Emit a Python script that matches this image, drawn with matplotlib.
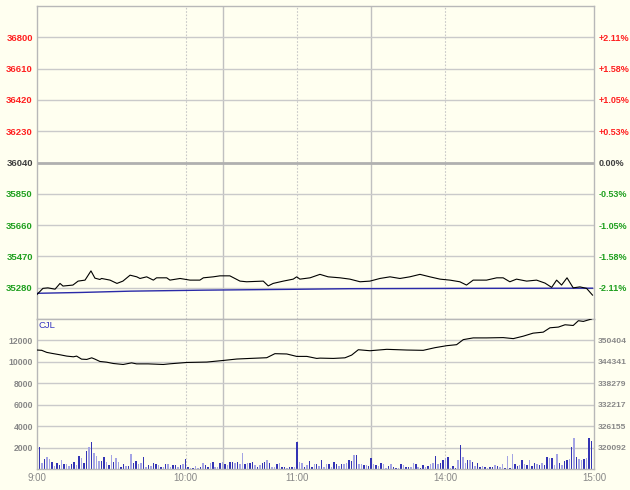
import matplotlib
matplotlib.use('Agg')
import matplotlib.pyplot as plt

# ---------------- data ----------------
price_min = [0, 2.4, 4.4, 7.3, 9.3, 10.5, 14.5, 16.6, 19.4, 21.8, 23.4, 25.4, 26.1, 29.5, 32.3, 34.7,
             37.6, 40.3, 41.6, 44.3, 47, 48.3, 52.4, 53.7, 57.8, 61.8, 65.8, 67.2, 71.2, 73.9, 77.9,
             82, 84.7, 91.4, 93.4, 95.4, 99.5, 103.5, 104.9, 106.2, 110.3, 114.3, 117.6, 122.4,
             126.4, 130.5, 134.5, 138.5, 142.6, 146.6, 150.6, 154.7, 158.7, 162.8, 166.8, 170.8,
             173.5, 176.2, 181.6, 185.7, 188.3, 191, 193.7, 197.8, 201.8, 205.2, 207.9, 209.9,
             211.9, 214.1, 216.6, 219.3, 222, 224.4]
price_val = [35239, 35276, 35279, 35271, 35306, 35290, 35296, 35320, 35326, 35382, 35338, 35330,
             35336, 35326, 35306, 35320, 35356, 35346, 35336, 35346, 35326, 35340, 35340, 35326,
             35336, 35326, 35326, 35340, 35346, 35352, 35352, 35320, 35316, 35320, 35291, 35306,
             35320, 35332, 35346, 35332, 35340, 35361, 35346, 35340, 35332, 35316, 35320, 35336,
             35346, 35336, 35346, 35361, 35346, 35332, 35326, 35316, 35296, 35326, 35326, 35340,
             35340, 35316, 35332, 35320, 35326, 35308, 35282, 35326, 35296, 35340, 35279, 35285,
             35276, 35235]
avg_min = [0, 17.4, 37.6, 67, 102, 126, 171, 224.4]
avg_val = [35246, 35251, 35259, 35265, 35270, 35274, 35276, 35277]

oi_min = [0, 1.9, 3.9, 6.0, 9.3, 12.0, 14.7, 16.0, 18.0, 20.1, 22.1, 23.4, 25.4, 28.1, 30.8,
          34.8, 38.2, 40.2, 44.9, 51.0, 53.8, 60.5, 68.6, 75.3, 80.7, 86.1, 92.8, 96.1, 100.9,
          104.9, 109.0, 113.0, 114.3, 119.7, 124.4, 127.1, 129.8, 134.5, 141.3, 149.4, 156.0,
          160.7, 165.5, 169.5, 172.2, 176.2, 181.6, 188.3, 192.4, 196.4, 200.4, 204.5, 207.2,
          210.6, 213.3, 216.6, 218.7, 220.7, 224.0]
oi_val = [347687, 347601, 347029, 346743, 346343, 345971, 345771, 345971, 345113, 345027, 345485,
          345113, 344455, 344255, 343883, 343598, 344055, 343770, 343770, 343598, 343798, 344170,
          344284, 344741, 345142, 345313, 345513, 346657, 346571, 345885, 345885, 345313, 345399,
          345313, 345485, 346257, 347773, 347487, 347887, 347687, 347601, 348344, 348916, 349202,
          350632, 351118, 351118, 351204, 350918, 351604, 352462, 352748, 353978, 354178, 354836,
          354635, 355980, 355780, 356466]

volume = [1650, 2010, 540, 960, 1140, 960, 690, 300, 600, 360, 870, 510, 510, 300, 510, 690, 390,
          1200, 1050, 600, 1650, 2010, 2490, 1500, 1260, 750, 750, 1110, 660, 360, 1350, 660, 1050,
          660, 210, 450, 300, 300, 1410, 540, 720, 510, 600, 1140, 210, 390, 300, 540, 510, 360,
          210, 210, 450, 510, 210, 360, 360, 210, 390, 510, 900, 150, 60, 60, 300, 60, 150, 600,
          360, 210, 540, 660, 150, 210, 600, 690, 450, 390, 690, 660, 600, 690, 450, 1500, 450,
          600, 600, 690, 390, 210, 390, 540, 690, 840, 540, 210, 210, 450, 600, 210, 210, 60, 150,
          150, 150, 2550, 690, 540, 210, 390, 750, 210, 450, 450, 300, 810, 150, 450, 510, 150,
          690, 510, 300, 510, 450, 600, 810, 750, 1290, 1290, 450, 510, 390, 360, 300, 990, 510,
          390, 300, 600, 510, 90, 300, 450, 150, 90, 60, 510, 390, 210, 210, 210, 540, 510, 150,
          60, 390, 150, 300, 450, 600, 1200, 450, 600, 810, 1050, 1140, 90, 300, 60, 810, 2250,
          1140, 600, 810, 810, 690, 300, 540, 210, 300, 210, 60, 150, 210, 360, 300, 210, 510, 90,
          1200, 60, 1440, 450, 300, 390, 810, 510, 390, 840, 300, 600, 510, 360, 600, 390, 1140,
          990, 990, 390, 1440, 600, 390, 750, 810, 960, 2100, 2850, 1140, 900, 840, 900, 1020,
          2850, 2640]
vol_dark = ("1101001011010011010110100"
            "0110101001101011001010110"
            "1010011010110100101101001"
            "0101101001011010110100101"
            "1011010010110101001011010"
            "0110100101101010010110101"
            "1001011010010110101101001"
            "0101101011010010101101010"
            "1101011010010110101001011")

prev_close = 36040
price_ticks = [36800, 36610, 36420, 36230, 36040, 35850, 35660, 35470, 35280]
pct_labels = ['+2.11%', '+1.58%', '+1.05%', '+0.53%', '0.00%', '-0.53%', '-1.05%', '-1.58%', '-2.11%']
vol_ticks = [2000, 4000, 6000, 8000, 10000, 12000]
oi_labels = ['320092', '326155', '332217', '338279', '344341', '350404']
time_ticks = [0, 60, 105, 165, 225]
time_labels = ['9:00', '10:00', '11:00', '14:00', '15:00']
session_breaks = [75, 135]
hour_marks = [60, 105, 165]

# ---------------- style ----------------
BG = '#fffff0'
GRID = '#cacaca'
RED = '#ff2020'
GREEN = '#20a020'
DARK = '#404040'
GRAY = '#888888'
FONT = 'Liberation Sans'

fig = plt.figure(figsize=(6.3, 4.9), dpi=100)
fig.patch.set_facecolor(BG)

W, H = 630, 490
L, R = 37, 594
ax = fig.add_axes([L / W, 1 - 319 / H, (R - L) / W, (319 - 6) / H])
axv = fig.add_axes([L / W, 1 - 469 / H, (R - L) / W, (469 - 319) / H])

for a in (ax, axv):
    a.set_facecolor(BG)
    a.set_xlim(0, 225)
    for s in a.spines.values():
        s.set_color('#b8b8b8')
        s.set_linewidth(1)
    for x in session_breaks:
        a.axvline(x, color='#c0c0c0', lw=1, zorder=1)
    for x in hour_marks:
        a.axvline(x, color='#c8c8c8', lw=0.8, ls=(0, (1.5, 1.5)), zorder=1)

# ---- price panel ----
half = 950
ax.set_ylim(prev_close - half, prev_close + half)
for p in price_ticks:
    if p == prev_close:
        ax.axhline(p, color='#b0b0b0', lw=2, zorder=1)
    else:
        ax.axhline(p, color=GRID, lw=1, zorder=1)
ax.plot(avg_min, avg_val, color='#2a2aa8', lw=1, zorder=3)
ax.plot(price_min, price_val, color='black', lw=0.8, zorder=4)
ax.set_xticks([])
ax.set_yticks(price_ticks)
ax.set_yticklabels([str(p) for p in price_ticks])
ax.tick_params(axis='y', length=0, pad=3)
for lab, p in zip(ax.get_yticklabels(), price_ticks):
    lab.set_color(RED if p > prev_close else (GREEN if p < prev_close else DARK))
    lab.set_fontfamily(FONT)
    lab.set_fontweight('bold')
    lab.set_fontsize(6.8)

axr = ax.twinx()
axr.set_ylim(ax.get_ylim())
axr.set_yticks(price_ticks)
axr.set_yticklabels(pct_labels)
axr.tick_params(axis='y', length=0, pad=3)
for s in axr.spines.values():
    s.set_visible(False)
for lab, p in zip(axr.get_yticklabels(), price_ticks):
    lab.set_color(RED if p > prev_close else (GREEN if p < prev_close else DARK))
    lab.set_fontfamily(FONT)
    lab.set_fontweight('bold')
    lab.set_fontsize(6.5)

# ---- volume / open interest panel ----
axv.set_ylim(0, 14000)
for v in vol_ticks:
    axv.axhline(v, color=GRID, lw=1, zorder=1)
colors = ['#3434b4' if c == '1' else '#a4a4e4' for c in vol_dark]
axv.bar(range(len(volume)), volume, width=0.6, color=colors, linewidth=0, zorder=2)
axv.set_yticks(vol_ticks)
axv.set_yticklabels([str(v) for v in vol_ticks])
axv.tick_params(axis='y', length=0, pad=3, labelcolor=GRAY)
axv.set_xticks(time_ticks)
axv.set_xticklabels(time_labels)
axv.tick_params(axis='x', length=0, pad=3, labelcolor=GRAY)
for lab in axv.get_yticklabels():
    lab.set_fontfamily(FONT)
    lab.set_fontweight('bold')
    lab.set_fontsize(6.2)
for lab in axv.get_xticklabels():
    lab.set_fontfamily(FONT)
    lab.set_fontsize(7)

oi_lo, oi_hi = 320092.0, 350404.0
step = (oi_hi - oi_lo) / (len(oi_labels) - 1)
axo = axv.twinx()
axo.set_ylim(oi_lo - step, oi_hi + step)
axo.plot(oi_min, oi_val, color='black', lw=0.8, zorder=4)
axo.set_yticks([oi_lo + i * step for i in range(len(oi_labels))])
axo.set_yticklabels(oi_labels)
axo.tick_params(axis='y', length=0, pad=3, labelcolor=GRAY)
for s in axo.spines.values():
    s.set_visible(False)
for lab in axo.get_yticklabels():
    lab.set_fontfamily(FONT)
    lab.set_fontweight('bold')
    lab.set_fontsize(6.1)

axv.text(0.003, 0.985, 'CJL', transform=axv.transAxes, ha='left', va='top',
         color='#3535c0', fontsize=6.8, fontfamily=FONT)

fig.savefig('out.png', dpi=100, facecolor=BG)
